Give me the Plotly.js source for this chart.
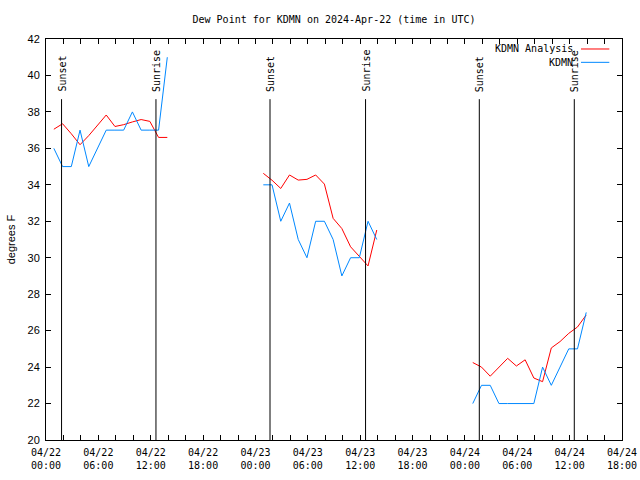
<!DOCTYPE html>
<html>
<head>
<meta charset="utf-8">
<script src="https://cdn.plot.ly/plotly-3.0.1.min.js"></script>
<style>html,body{margin:0;padding:0;background:#fff}#chart{width:640px;height:480px}</style>
</head>
<body>
<div id="chart"></div>
<script>
// ---- data ----
var obsTimes = [
  "2024-04-22 00:54","2024-04-22 01:54","2024-04-22 02:54","2024-04-22 03:54","2024-04-22 04:54",
  "2024-04-22 05:54","2024-04-22 06:54","2024-04-22 07:54","2024-04-22 08:54","2024-04-22 09:54",
  "2024-04-22 10:54","2024-04-22 11:54","2024-04-22 12:54","2024-04-22 13:54",
  "2024-04-22 18:00",
  "2024-04-23 00:54","2024-04-23 01:54","2024-04-23 02:54","2024-04-23 03:54","2024-04-23 04:54",
  "2024-04-23 05:54","2024-04-23 06:54","2024-04-23 07:54","2024-04-23 08:54","2024-04-23 09:54",
  "2024-04-23 10:54","2024-04-23 11:54","2024-04-23 12:54","2024-04-23 13:54",
  "2024-04-23 18:00",
  "2024-04-24 00:54","2024-04-24 01:54","2024-04-24 02:54","2024-04-24 03:54","2024-04-24 04:54",
  "2024-04-24 05:54","2024-04-24 06:54","2024-04-24 07:54","2024-04-24 08:54","2024-04-24 09:54",
  "2024-04-24 10:54","2024-04-24 11:54","2024-04-24 12:54","2024-04-24 13:54"
];
var analysisDewpt = [
  37.05,37.35,36.8,36.2,36.7,37.27,37.83,37.2,37.3,37.45,37.58,37.48,36.6,36.6,
  null,
  34.63,34.25,33.8,34.54,34.26,34.3,34.54,34.04,32.16,31.6,30.6,30.1,29.55,31.52,
  null,
  24.25,24.0,23.5,24.0,24.48,24.06,24.4,23.4,23.2,25.05,25.4,25.85,26.2,26.86
];
var obsDewpt = [
  36,35,35,37,35,36,37,37,37,38,37,37,37,41,
  null,
  34,34,32,33,31,30,32,32,31,29,30,30,32,31,
  null,
  22,23,23,22,22,22,22,22,24,23,24,25,25,27
];
var sunTimes  = ["2024-04-22 01:47","2024-04-22 12:36","2024-04-23 01:40","2024-04-23 12:37","2024-04-24 01:39","2024-04-24 12:32"];
var sunLabels = ["Sunset","Sunrise","Sunset","Sunrise","Sunset","Sunrise"];
var tickTimes = ["2024-04-22 00:00","2024-04-22 06:00","2024-04-22 12:00","2024-04-22 18:00",
                 "2024-04-23 00:00","2024-04-23 06:00","2024-04-23 12:00","2024-04-23 18:00",
                 "2024-04-24 00:00","2024-04-24 06:00","2024-04-24 12:00","2024-04-24 18:00"];
var tickLabels = ["04/22<br>00:00","04/22<br>06:00","04/22<br>12:00","04/22<br>18:00",
                  "04/23<br>00:00","04/23<br>06:00","04/23<br>12:00","04/23<br>18:00",
                  "04/24<br>00:00","04/24<br>06:00","04/24<br>12:00","04/24<br>18:00"];
var seriesNames = ["KDMN Analysis","KDMN"];
var seriesColors = ["#ff0000","#0088ff"];

// ---- chart ----
var mono = "DejaVu Sans Mono";
var sans = "Liberation Sans";

var traces = [
  {x: obsTimes, y: analysisDewpt, type: "scatter", mode: "lines", name: seriesNames[0],
   line: {color: seriesColors[0], width: 1}, connectgaps: false},
  {x: obsTimes, y: obsDewpt, type: "scatter", mode: "lines", name: seriesNames[1],
   line: {color: seriesColors[1], width: 1}, connectgaps: false}
];

var shapes = sunTimes.map(function(t){
  return {type: "line", xref: "x", yref: "y", x0: t, x1: t, y0: 20, y1: 38.7,
          line: {color: "#000", width: 1}};
});
var annotations = sunTimes.map(function(t, i){
  return {x: t, y: 38.98, xref: "x", yref: "y", text: sunLabels[i], showarrow: false,
          textangle: -90, xanchor: "center", yanchor: "bottom",
          font: {family: mono, size: 10, color: "#000"}};
});
// legend (gnuplot style: text, then key line)
var legY = [0.9751, 0.9418];
seriesNames.forEach(function(n, i){
  annotations.push({xref: "paper", yref: "paper", x: 0.918, y: legY[i], text: n,
    showarrow: false, xanchor: "right", yanchor: "middle",
    font: {family: mono, size: 10, color: "#000"}});
  shapes.push({type: "line", xref: "paper", yref: "paper", x0: 0.9288, x1: 0.978,
    y0: legY[i], y1: legY[i], line: {color: seriesColors[i], width: 1}});
});

var layout = {
  width: 640, height: 480,
  margin: {l: 46, r: 18, t: 39, b: 40},
  paper_bgcolor: "#fff", plot_bgcolor: "#fff",
  showlegend: false,
  title: {text: "Dew Point for KDMN on 2024-Apr-22 (time in UTC)",
          x: 0.5, xref: "paper", y: 0.96, yref: "container", yanchor: "middle",
          font: {family: mono, size: 10, color: "#000"}},
  xaxis: {type: "date", range: ["2024-04-22 00:00", "2024-04-24 18:00"],
          tickmode: "array", tickvals: tickTimes, ticktext: tickLabels,
          ticks: "inside", ticklen: 5, tickcolor: "#000", tickwidth: 1,
          ticklabelstandoff: 3,
          minor: {tick0: "2024-04-22 00:00", dtick: 7200000, ticks: "inside", ticklen: 5, tickcolor: "#000", tickwidth: 1, showgrid: false},
          showline: true, linecolor: "#000", linewidth: 1, mirror: "allticks",
          showgrid: false, zeroline: false,
          tickfont: {family: mono, size: 10, color: "#000"}},
  yaxis: {range: [20, 42], tick0: 20, dtick: 2,
          ticks: "inside", ticklen: 5, tickcolor: "#000", tickwidth: 1,
          ticklabelstandoff: 3,
          showline: true, linecolor: "#000", linewidth: 1, mirror: "allticks",
          showgrid: false, zeroline: false,
          tickfont: {family: sans, size: 11, color: "#000"},
          title: {text: "degrees F", standoff: 9, font: {family: sans, size: 11, color: "#000"}}},
  shapes: shapes,
  annotations: annotations
};

Plotly.newPlot("chart", traces, layout, {displayModeBar: false, staticPlot: true});
</script>
</body>
</html>
